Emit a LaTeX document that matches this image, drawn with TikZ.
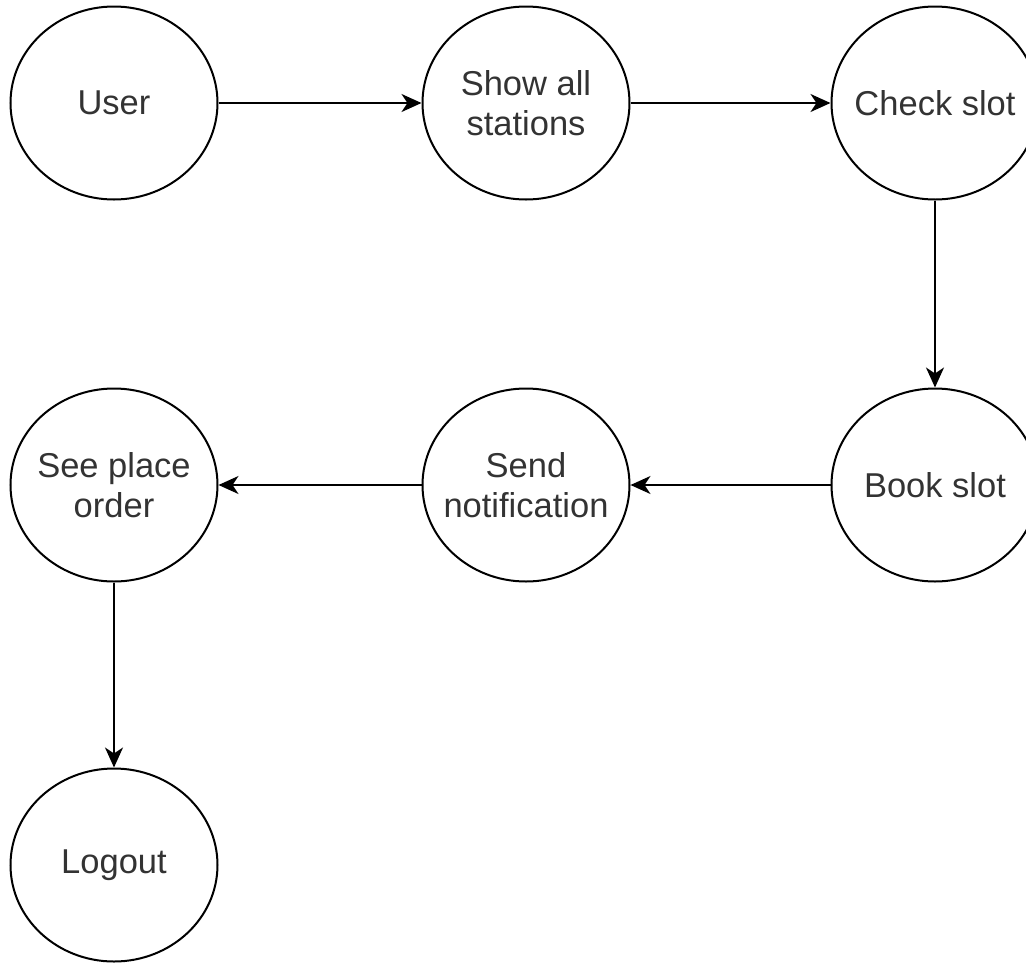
\documentclass[tikz,border=0pt]{standalone}
\usepackage{fontspec}
\setmainfont{Liberation Sans}
\usepackage{xcolor}
\definecolor{textgrey}{rgb}{0.2,0.2,0.2}
\usetikzlibrary{arrows.meta}
\usetikzlibrary{shapes.geometric}

\begin{document}
\begin{tikzpicture}[x=1pt, y=-1pt,
  state/.style={ellipse, draw, line width=2pt, minimum width=207pt, minimum height=193pt, inner xsep=-40pt, inner ysep=0pt, align=center, text=textgrey, font=\fontsize{34.5}{40}\selectfont},
  flow/.style={line width=2pt, -{Stealth[length=20pt, width=18pt, inset=6pt]}}]

  \useasboundingbox (0,0) rectangle (1026,962);

  % top row
  \node[state] (user) at (114,103) {User};
  \node[state] (stations) at (526,103) {Show all\\stations};
  \node[state] (check) at (935,103) {Check slot};

  % middle row
  \node[state] (book) at (935,485) {Book slot};
  \node[state] (notify) at (526,485) {Send\\notification};
  \node[state] (order) at (114,485) {See place\\order};

  % bottom
  \node[state] (logout) at (114,865) {Logout};

  % connectors
  \draw[flow] (user) -- (stations);
  \draw[flow] (stations) -- (check);
  \draw[flow] (check) -- (book);
  \draw[flow] (book) -- (notify);
  \draw[flow] (notify) -- (order);
  \draw[flow] (order) -- (logout);

\end{tikzpicture}
\end{document}
